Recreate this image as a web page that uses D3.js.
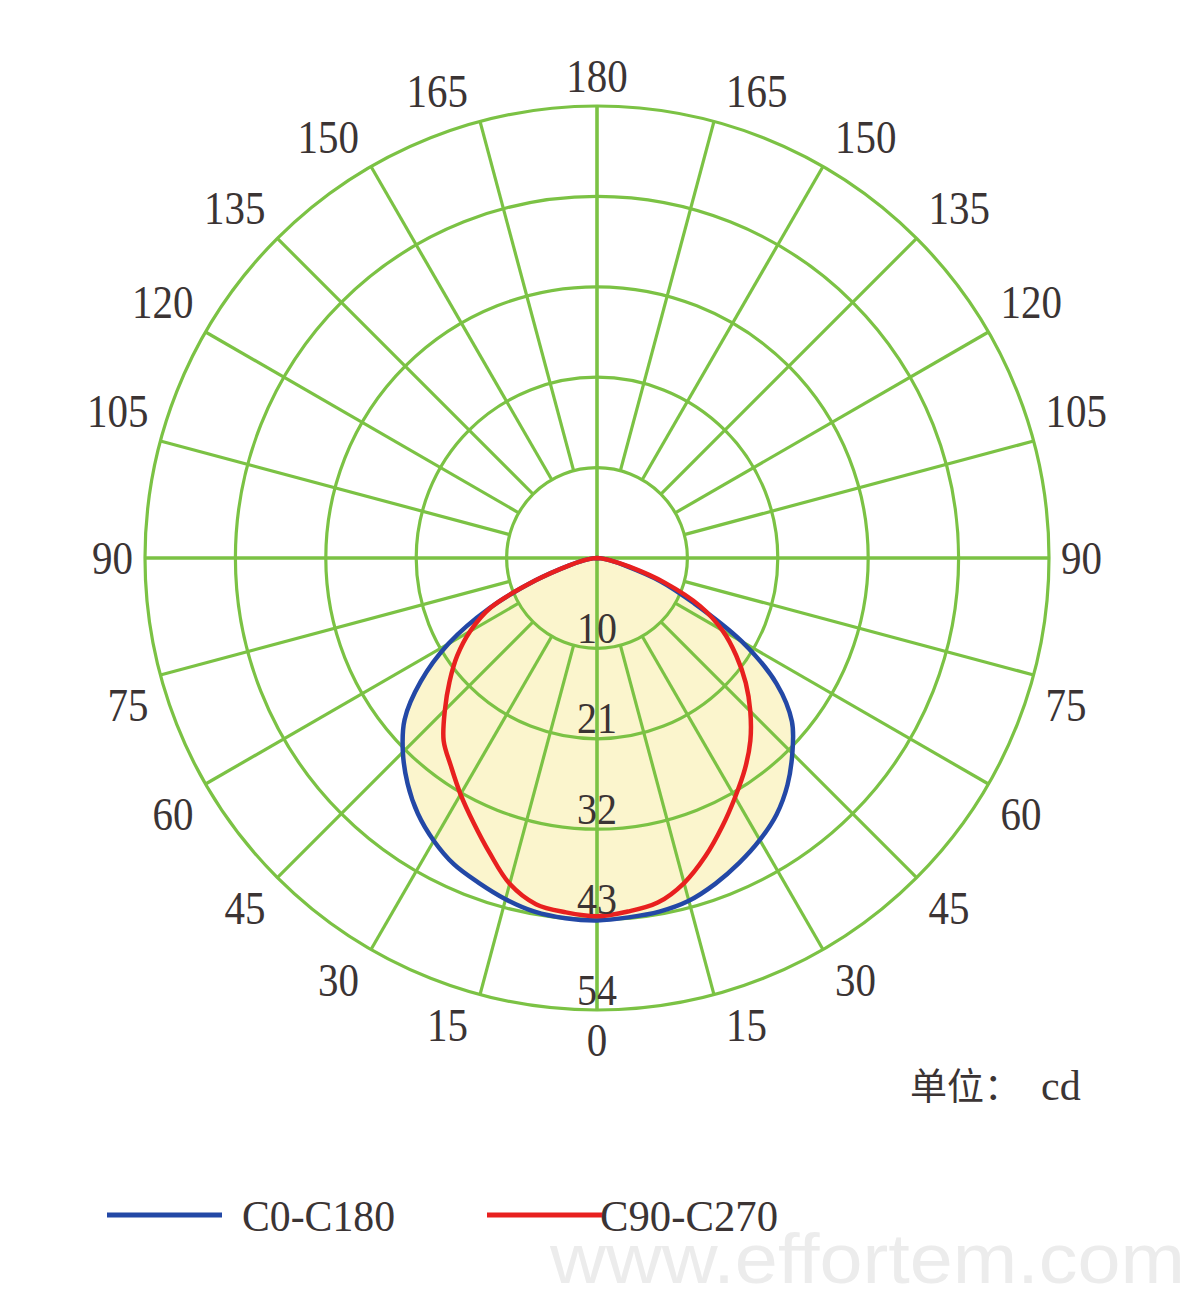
<!DOCTYPE html>
<html>
<head>
<meta charset="utf-8">
<script src="https://cdn.jsdelivr.net/npm/d3@7"></script>
<style>
  html, body { margin: 0; padding: 0; background: #ffffff; }
  svg { display: block; }
</style>
</head>
<body>
<svg id="chart" width="1200" height="1297"></svg>
<script>
// ---------------- data ----------------
// gamma angles (degrees from nadir) at which intensities were read
const gammaAngles = [0, 5, 10, 15, 20, 25, 30, 35, 40, 45, 50, 55, 60, 65, 70, 75, 80, 85, 90];
// C0-C180 plane (blue): left half and right half, cd
const c0c180Left  = [43.3, 43.2, 42.9, 42.2, 41.3, 40.4, 39.0, 37.3, 35.2, 32.8, 30.0, 25.7, 20.5, 14.2, 7.8, 3.5, 1.5, 0.5, 0];
const c0c180Right = [43.3, 43.1, 42.9, 42.4, 41.4, 40.2, 38.9, 37.4, 35.4, 33.0, 30.4, 26.2, 20.0, 12.8, 8.0, 3.5, 1.5, 0.5, 0];
// C90-C270 plane (red)
const c90c270Left  = [42.6, 42.5, 42.0, 40.3, 37.5, 34.9, 32.6, 30.4, 28.5, 25.7, 23.0, 20.4, 17.5, 14.0, 7.8, 3.5, 1.5, 0.5, 0];
const c90c270Right = [42.8, 42.4, 41.8, 40.2, 37.9, 35.4, 33.0, 30.8, 28.5, 25.9, 23.2, 20.3, 17.3, 13.6, 8.6, 4.0, 1.5, 0.5, 0];

// radial grid
const maxValue = 54;
const ringValues = [10.8, 21.6, 32.4, 43.2, 54];
const ringLabels = ["10", "21", "32", "43", "54"];
// angle ticks (degrees)
const angleTicks = [0, 15, 30, 45, 60, 75, 90, 105, 120, 135, 150, 165, 180];

const seriesNames = ["C0-C180", "C90-C270"];
const seriesColors = ["#2348a6", "#e8201f"];
const unitLabel = "单位：";
const unitValue = "cd";
const watermark = "www.effortem.com";

// ---------------- drawing ----------------
const svg = d3.select("#chart");
const cx = 597, cy = 558;
const R = 452;
const rScale = d3.scaleLinear().domain([0, maxValue]).range([0, R]);
const toRad = d => d * Math.PI / 180;

const gridColor = "#7bc244";
const textColor = "#3b3434";
const fillColor = "#fbf5cd";
const serif = "'Liberation Serif', 'DejaVu Serif', serif";

const g = svg.append("g").attr("transform", `translate(${cx},${cy})`);

// build closed polygon points for a series (d3 radial angle: clockwise from up)
function seriesPoints(left, right) {
  const pts = [];
  for (let i = gammaAngles.length - 1; i >= 0; i--) {
    pts.push([Math.PI - toRad(gammaAngles[i]), rScale(right[i])]);
  }
  for (let i = 1; i < gammaAngles.length; i++) {
    pts.push([Math.PI + toRad(gammaAngles[i]), rScale(left[i])]);
  }
  return pts;
}
const series = [
  seriesPoints(c0c180Left, c0c180Right),
  seriesPoints(c90c270Left, c90c270Right)
];
const line = d3.lineRadial()
  .angle(d => d[0])
  .radius(d => d[1])
  .curve(d3.curveCatmullRom.alpha(0.5));

// fill (union of both curves)
g.selectAll("path.fill").data(series).join("path")
  .attr("class", "fill")
  .attr("d", d => line(d) + "Z")
  .attr("fill", fillColor)
  .attr("stroke", "none");

// rings
g.selectAll("circle.ring").data(ringValues).join("circle")
  .attr("class", "ring")
  .attr("r", d => rScale(d))
  .attr("fill", "none")
  .attr("stroke", gridColor)
  .attr("stroke-width", 3.2);

// radial spokes every 15 degrees
const spokes = d3.range(0, 360, 15);
g.selectAll("line.spoke").data(spokes).join("line")
  .attr("class", "spoke")
  .each(function(a) {
    const axis = a % 90 === 0;
    const r0 = axis ? 0 : rScale(ringValues[0]);
    const t = toRad(a);
    d3.select(this)
      .attr("x1", r0 * Math.sin(t)).attr("y1", -r0 * Math.cos(t))
      .attr("x2", R * Math.sin(t)).attr("y2", -R * Math.cos(t));
  })
  .attr("stroke", gridColor)
  .attr("stroke-width", d => d % 90 === 0 ? 3.6 : 3.2);

// curves
g.selectAll("path.curve").data(series).join("path")
  .attr("class", "curve")
  .attr("d", d => line(d) + "Z")
  .attr("fill", "none")
  .attr("stroke", (d, i) => seriesColors[i])
  .attr("stroke-width", 4.5)
  .attr("stroke-linejoin", "round");

// ring labels along the bottom axis
g.selectAll("text.ringlabel").data(ringValues).join("text")
  .attr("class", "ringlabel")
  .attr("transform", d => `translate(0,${rScale(d) - 21}) scale(1,1.12)`)
  .attr("text-anchor", "middle")
  .attr("dy", "0.35em")
  .attr("font-family", serif)
  .attr("font-size", 40)
  .attr("fill", textColor)
  .text((d, i) => ringLabels[i]);

// angle labels: placed at the spoke end, offset outward horizontally and vertically
const angleLabelData = [];
angleTicks.forEach(a => {
  angleLabelData.push({ a: a, side: 1 });
  if (a !== 0 && a !== 180) angleLabelData.push({ a: a, side: -1 });
});
const padX = 12, padY = 30;
g.selectAll("text.anglelabel").data(angleLabelData).join("text")
  .attr("class", "anglelabel")
  .attr("transform", d => {
    const t = toRad(d.a);
    const pole = d.a === 0 || d.a === 180;
    const ex = d.side * R * Math.sin(t);
    const ey = R * Math.cos(t);
    const x = pole ? 0 : ex + d.side * padX;
    const c = Math.cos(t);
    const y = d.a === 90 ? 0 : ey + (c > 0 ? padY : -padY);
    return `translate(${x},${y}) scale(1,1.12)`;
  })
  .attr("text-anchor", d => (d.a === 0 || d.a === 180) ? "middle" : (d.side > 0 ? "start" : "end"))
  .attr("dy", "0.35em")
  .attr("font-family", serif)
  .attr("font-size", 41)
  .attr("fill", textColor)
  .text(d => String(d.a));

// unit text
const unit = svg.append("text")
  .attr("x", 910).attr("y", 1100)
  .attr("fill", textColor);
unit.append("tspan")
  .attr("font-family", "'Noto Sans CJK SC', serif")
  .attr("font-size", 37)
  .text(unitLabel);
unit.append("tspan")
  .attr("dx", 20)
  .attr("font-family", serif)
  .attr("font-size", 42)
  .text(unitValue);

// legend
const legendX = [107, 487];
const legend = svg.selectAll("g.legend").data(seriesNames).join("g")
  .attr("class", "legend")
  .attr("transform", (d, i) => `translate(${legendX[i]},1215)`);
legend.append("line")
  .attr("x1", 0).attr("x2", 115).attr("y1", 0).attr("y2", 0)
  .attr("stroke", (d, i) => seriesColors[i])
  .attr("stroke-width", 5);
legend.append("text")
  .attr("transform", (d, i) => `translate(${i === 0 ? 135 : 113},0) scale(1,1.12)`)
  .attr("dy", "0.35em")
  .attr("font-family", serif)
  .attr("font-size", 40)
  .attr("textLength", (d, i) => i === 0 ? 153 : 178)
  .attr("lengthAdjust", "spacingAndGlyphs")
  .attr("fill", textColor)
  .text(d => d);

// watermark
svg.append("text")
  .attr("x", 550).attr("y", 1283)
  .attr("font-family", "'Liberation Sans', 'DejaVu Sans', sans-serif")
  .attr("font-size", 70)
  .attr("textLength", 635)
  .attr("lengthAdjust", "spacingAndGlyphs")
  .attr("fill", "#ececec")
  .text(watermark);
</script>
</body>
</html>
